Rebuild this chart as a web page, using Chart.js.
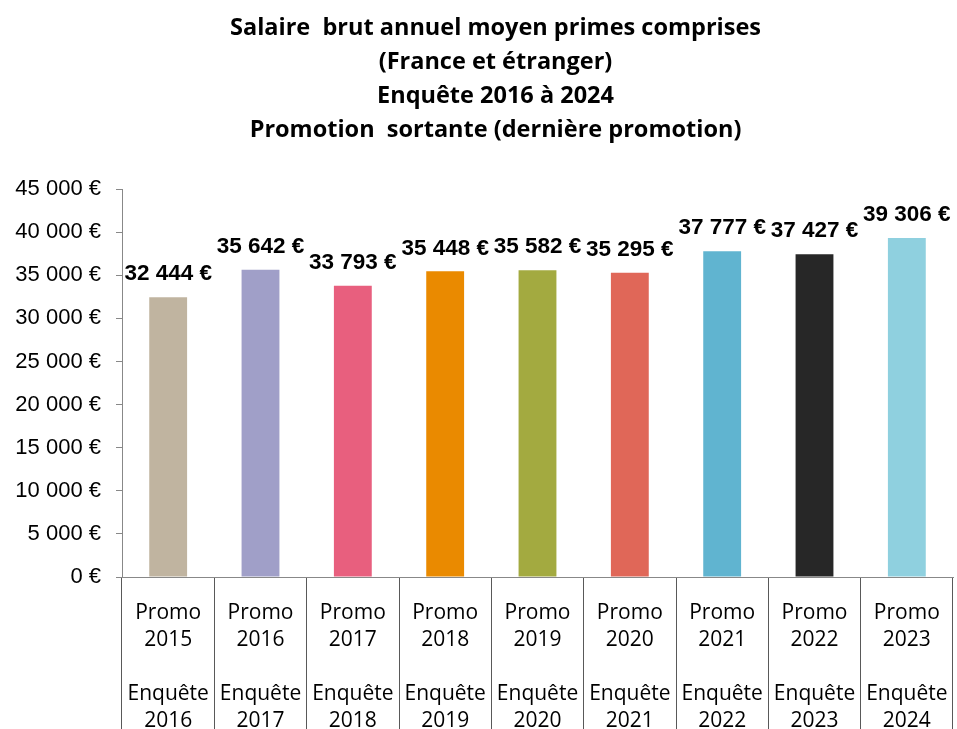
<!DOCTYPE html>
<html>
<head>
<meta charset="utf-8">
<script src="https://cdn.jsdelivr.net/npm/chart.js@4"></script>
<style>
  body { margin: 0; background: #fff; }
  #wrap { width: 957px; height: 729px; position: relative; }
</style>
</head>
<body>
<div id="wrap"><canvas id="salaryChart"></canvas></div>
<script>
// catégories (promo / enquête)
const promos = ["2015", "2016", "2017", "2018", "2019", "2020", "2021", "2022", "2023"];
const enquetes = ["2016", "2017", "2018", "2019", "2020", "2021", "2022", "2023", "2024"];
const salaires = [32444, 35642, 33793, 35448, 35582, 35295, 37777, 37427, 39306];
const barColors = [
  "#C0B4A0", "#A09FC8", "#E85F7E", "#EA8A00", "#A3AA40",
  "#E06758", "#60B4D0", "#272727", "#8FD0DF",
];
const titleLines = [
  "Salaire  brut annuel moyen primes comprises",
  "(France et étranger)",
  "Enquête 2016 à 2024",
  "Promotion  sortante (dernière promotion)",
];
const yMax = 45000;
const yStep = 5000;

const labels = promos.map((p, i) => ["Promo", p, "", "Enquête", enquetes[i]]);

function euros(v) {
  return String(v).replace(/\B(?=(\d{3})+(?!\d))/g, " ") + " €";
}

// titre centré un peu à droite du canvas (comme dans l'original)
const titleBlock = {
  id: "titleBlock",
  afterDraw(chart) {
    const { ctx } = chart;
    ctx.save();
    ctx.font = "bold 23.5px 'Open Sans', sans-serif";
    ctx.fillStyle = "#000";
    ctx.textAlign = "center";
    ctx.textBaseline = "middle";
    titleLines.forEach((line, i) => ctx.fillText(line, 495.5, 28 + i * 34));
    ctx.restore();
  },
};

// étiquettes de valeur au-dessus des barres
const valueLabels = {
  id: "valueLabels",
  afterDatasetsDraw(chart) {
    const { ctx } = chart;
    const meta = chart.getDatasetMeta(0);
    ctx.save();
    ctx.font = "bold 22.5px 'Liberation Sans', Arial, sans-serif";
    ctx.fillStyle = "#000";
    ctx.textAlign = "center";
    ctx.textBaseline = "middle";
    meta.data.forEach((bar, i) => {
      ctx.fillText(euros(salaires[i]), bar.x, bar.y - 23);
    });
    ctx.restore();
  },
};

new Chart(document.getElementById("salaryChart"), {
  type: "bar",
  data: {
    labels,
    datasets: [
      {
        data: salaires,
        backgroundColor: barColors,
        categoryPercentage: 1,
        barPercentage: 0.41,
      },
    ],
  },
  options: {
    responsive: true,
    maintainAspectRatio: false,
    animation: false,
    layout: { padding: { top: 189, left: 0, right: 4, bottom: 0 } },
    plugins: {
      legend: { display: false },
      tooltip: { enabled: false },
      title: { display: false },
    },
    scales: {
      x: {
        offset: true,
        grid: {
          offset: true,
          drawOnChartArea: false,
          drawTicks: true,
          tickLength: 152,
          color: "#595959",
        },
        border: { display: true, color: "#888888" },
        ticks: {
          color: "#000",
          padding: -129.5,
          maxRotation: 0,
          autoSkip: false,
          font: { family: "'Open Sans', sans-serif", size: 21, lineHeight: 27 / 21 },
        },
        afterFit: (s) => { s.height = 152; },
      },
      y: {
        min: 0,
        max: yMax,
        grid: { drawOnChartArea: false, tickLength: 6, color: "#888888" },
        border: { display: true, color: "#888888" },
        ticks: {
          stepSize: yStep,
          color: "#000",
          padding: 15,
          font: { family: "'Liberation Sans', Arial, sans-serif", size: 22 },
          callback: (v) => euros(v),
        },
        afterFit: (s) => { s.width = 122; },
      },
    },
  },
  plugins: [valueLabels, titleBlock],
});
</script>
</body>
</html>
